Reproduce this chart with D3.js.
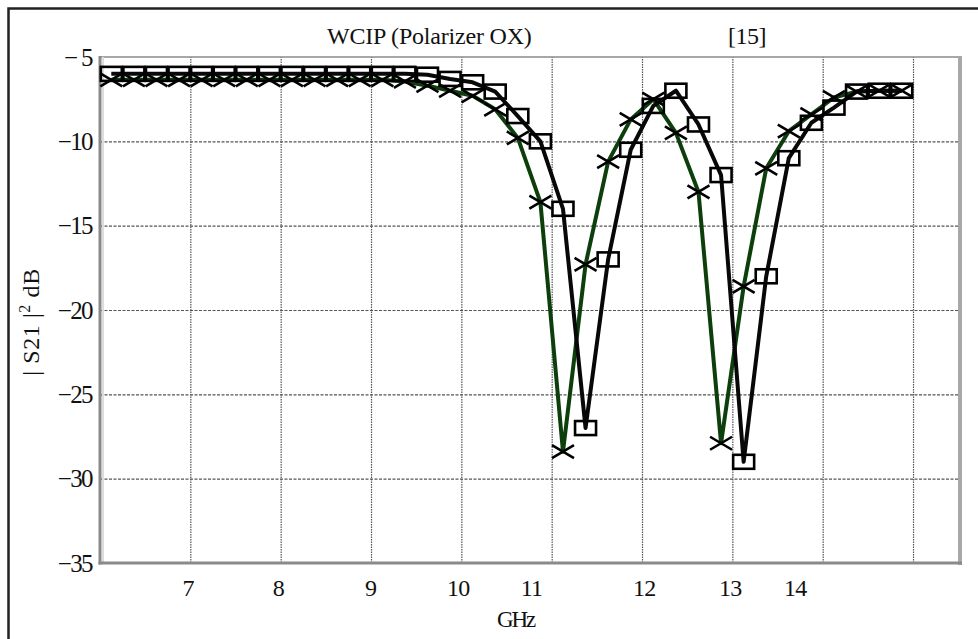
<!DOCTYPE html>
<html>
<head>
<meta charset="utf-8">
<script src="https://cdn.jsdelivr.net/npm/d3@7/dist/d3.min.js"></script>
<style>
  body { margin: 0; background: #fff; }
  svg { display: block; font-family: 'Liberation Serif', 'DejaVu Serif', serif; }
</style>
</head>
<body>
<div id="chart"></div>
<script>
// frequency samples (GHz)
const freq = [6.125, 6.375, 6.625, 6.875, 7.125, 7.375, 7.625, 7.875, 8.125, 8.375,
  8.625, 8.875, 9.125, 9.375, 9.625, 9.875, 10.125, 10.375, 10.625, 10.875,
  11.125, 11.375, 11.625, 11.875, 12.125, 12.375, 12.625, 12.875, 13.125, 13.375,
  13.625, 13.875, 14.125, 14.375, 14.625, 14.875]

// black curve, square markers
const s21Square = [-6.0, -6.0, -6.0, -6.0, -6.0, -6.0, -6.0, -6.0, -6.0, -6.0,
  -6.0, -6.0, -6.0, -6.0, -6.05, -6.3, -6.5, -7.05, -8.5, -10.0,
  -14.0, -27.0, -17.0, -10.5, -7.9, -7.0, -9.0, -12.0, -29.0, -18.0,
  -11.0, -8.9, -8.0, -7.05, -7.0, -7.0]

// green curve, cross markers
const s21Cross = [-6.35, -6.35, -6.35, -6.35, -6.35, -6.35, -6.35, -6.35, -6.35, -6.35,
  -6.35, -6.35, -6.35, -6.45, -6.7, -7.0, -7.3, -8.1, -9.8, -13.6,
  -28.4, -17.3, -11.2, -8.7, -7.5, -9.5, -13.0, -27.9, -18.6, -11.6,
  -9.4, -8.4, -7.4, -7.05, -7.0, -7.0]

const xGrid = [7, 8, 9, 10, 11, 12, 13, 14, 15]
const yGrid = [-10, -15, -20, -25, -30]
const yTicks = [-5, -10, -15, -20, -25, -30, -35]
const yTickLabels = ['\u2212 5', '\u221210', '\u221215', '\u221220', '\u221225', '\u221230', '\u221235']
// tick labels sit a little off the grid lines in the original
const xTickLabels = ['7', '8', '9', '10', '11', '12', '13', '14']
const xTickAt = [6.97, 7.97, 8.99, 9.96, 10.77, 12.02, 12.97, 13.69]

const width = 978
const height = 639
const margin = { top: 57, right: 18, bottom: 76, left: 100 }

const svg = d3.select('#chart')
  .append('svg')
  .attr('width', width)
  .attr('height', height)

svg.append('rect').attr('width', width).attr('height', height).attr('fill', '#fff')

// outer frame (open to the right and bottom)
svg.append('path')
  .attr('d', `M8.5,${height + 5} V8.5 H${width + 5}`)
  .attr('fill', 'none')
  .attr('stroke', '#222')
  .attr('stroke-width', 2.5)

const x = d3.scaleLinear()
  .domain([6, 15.52])
  .range([margin.left, width - margin.right])

const y = d3.scaleLinear()
  .domain([-35, -5])
  .range([height - margin.bottom, margin.top])

// grid
const grid = svg.append('g').classed('grid', true)

grid.append('g')
  .attr('transform', `translate(0,${height - margin.bottom})`)
  .call(d3.axisBottom(x).tickValues(xGrid).tickSize(-(height - margin.top - margin.bottom)).tickFormat(''))
  .call(g => g.select('.domain').remove())
  .selectAll('line')
  .attr('stroke', '#555')
  .attr('stroke-width', 1.2)
  .attr('stroke-dasharray', '1.5,1')

grid.append('g')
  .attr('transform', `translate(${margin.left},0)`)
  .call(d3.axisLeft(y).tickValues(yGrid).tickSize(-(width - margin.left - margin.right)).tickFormat(''))
  .call(g => g.select('.domain').remove())
  .selectAll('line')
  .attr('stroke', '#555')
  .attr('stroke-width', 1.2)
  .attr('stroke-dasharray', '3,1.5')

// plot frame
const x0 = x.range()[0]
const x1 = x.range()[1]
const y0 = y.range()[1]
const y1 = y.range()[0]

svg.append('line')
  .attr('x1', x0).attr('x2', x1).attr('y1', y0).attr('y2', y0)
  .attr('stroke', '#8a8a8a').attr('stroke-width', 1.5)
svg.append('line')
  .attr('x1', x0 + 3).attr('x2', x0 + 3).attr('y1', y0).attr('y2', y1)
  .attr('stroke', '#ddd').attr('stroke-width', 2)
svg.append('line')
  .attr('x1', x1).attr('x2', x1).attr('y1', y0 - 1).attr('y2', y1 + 2)
  .attr('stroke', '#a8a8a8').attr('stroke-width', 4)
svg.append('line')
  .attr('x1', x0).attr('x2', x0).attr('y1', y0 - 1).attr('y2', y1 + 1.5)
  .attr('stroke', '#8a8a8a').attr('stroke-width', 3)
svg.append('line')
  .attr('x1', x0 - 1.5).attr('x2', x1 + 2).attr('y1', y1).attr('y2', y1)
  .attr('stroke', '#8a8a8a').attr('stroke-width', 3)

// y tick labels
const yAxis = svg.append('g')
  .attr('transform', `translate(${margin.left},0)`)
  .call(d3.axisLeft(y).tickValues(yTicks).tickSize(0).tickPadding(8)
    .tickFormat((d, i) => yTickLabels[i]))
yAxis.select('.domain').remove()
yAxis.selectAll('text')
  .attr('font-family', "'Liberation Serif', serif")
  .attr('font-size', 25)
  .attr('letter-spacing', -1.6)
  .attr('fill', '#111')

// x tick labels
const xAxis = svg.append('g')
  .attr('transform', `translate(0,${height - margin.bottom})`)
  .call(d3.axisBottom(x).tickValues(xTickAt).tickSize(0).tickPadding(16)
    .tickFormat((d, i) => xTickLabels[i]))
xAxis.select('.domain').remove()
xAxis.selectAll('text')
  .attr('font-family', "'Liberation Serif', serif")
  .attr('font-size', 24)
  .attr('letter-spacing', -0.8)
  .attr('fill', '#111')

// axis titles
svg.append('text')
  .attr('x', x(10.6))
  .attr('y', 627)
  .attr('text-anchor', 'middle')
  .attr('font-size', 23)
  .attr('letter-spacing', -2.2)
  .attr('fill', '#111')
  .text('GHz')

const yLabel = svg.append('text')
  .attr('transform', 'translate(39,322) rotate(-90)')
  .attr('text-anchor', 'middle')
  .attr('font-size', 24)
  .attr('letter-spacing', 0.6)
  .attr('fill', '#111')
yLabel.append('tspan').text('| S21 |')
yLabel.append('tspan').attr('font-size', 16).attr('dy', -9).text('2')
yLabel.append('tspan').attr('dy', 9).text(' dB')

// titles
svg.append('text')
  .attr('x', 327)
  .attr('y', 44)
  .attr('font-size', 24)
  .attr('letter-spacing', -0.2)
  .attr('fill', '#111')
  .text('WCIP (Polarizer OX)')

svg.append('text')
  .attr('x', 728)
  .attr('y', 44)
  .attr('font-size', 24)
  .attr('letter-spacing', -0.5)
  .attr('fill', '#111')
  .text('[15]')

// curves
const crossData = freq.map((f, i) => ({ f, v: s21Cross[i] }))
const squareData = freq.map((f, i) => ({ f, v: s21Square[i] }))

const line = d3.line()
  .x(d => x(d.f))
  .y(d => y(d.v))

const plot = svg.append('g').classed('parent', true)

plot.append('path')
  .datum(crossData)
  .attr('d', line)
  .attr('fill', 'none')
  .attr('stroke', '#0c3f0c')
  .attr('stroke-width', 4)
  .attr('stroke-linejoin', 'round')

plot.append('path')
  .datum(squareData)
  .attr('d', line)
  .attr('fill', 'none')
  .attr('stroke', '#080808')
  .attr('stroke-width', 4)
  .attr('stroke-linejoin', 'round')

// markers
plot.selectAll('path.cross')
  .data(crossData)
  .enter()
  .append('path')
  .classed('cross', true)
  .attr('transform', d => `translate(${x(d.f)},${y(d.v)})`)
  .attr('d', 'M-11,-6.5L11,6.5M-11,6.5L11,-6.5')
  .attr('fill', 'none')
  .attr('stroke', '#000')
  .attr('stroke-width', 2.6)

plot.selectAll('rect.square')
  .data(squareData)
  .enter()
  .append('rect')
  .classed('square', true)
  .attr('x', d => x(d.f) - 10.5)
  .attr('y', d => y(d.v) - 7)
  .attr('width', 21)
  .attr('height', 14)
  .attr('fill', 'none')
  .attr('stroke', '#000')
  .attr('stroke-width', 2.6)
</script>
</body>
</html>
